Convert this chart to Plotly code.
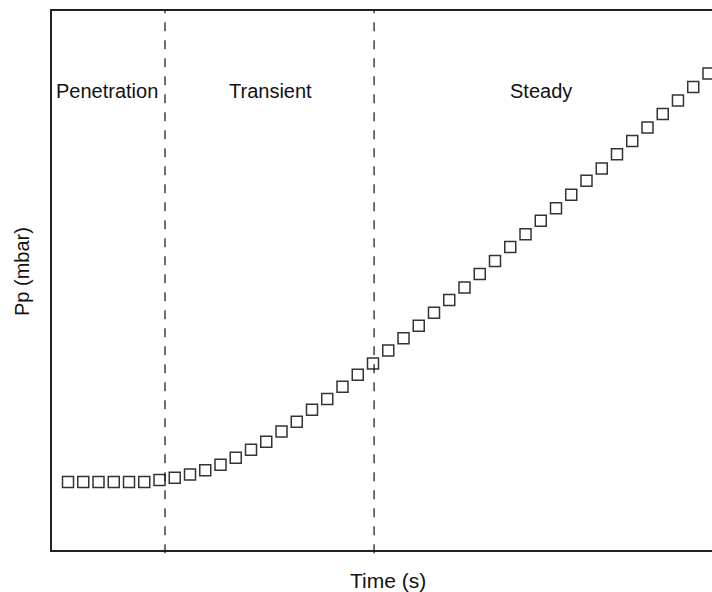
import plotly.graph_objects as go

# Sample index (time steps) and permeate pressure readings (arbitrary units)
time_idx = list(range(43))
pp_values = [12.6, 12.6, 12.6, 12.6, 12.6, 12.6, 13.0, 13.4, 14.0, 14.8,
             15.8, 17.1, 18.6, 20.1, 22.0, 23.8, 26.0, 28.0, 30.3, 32.5,
             34.6, 37.0, 39.3, 41.6, 44.0, 46.4, 48.7, 51.2, 53.6, 56.2,
             58.6, 61.1, 63.4, 65.9, 68.5, 70.8, 73.4, 75.9, 78.4, 80.9,
             83.4, 85.9, 88.4]

# Region boundaries (in time index units) and labels
boundaries = [6.36, 20.07]
region_labels = ["Penetration", "Transient", "Steady"]
region_label_x = [2.56, 13.3, 31.0]
label_y = 85.1

x_range = [-1.05, 42.23]
y_range = [0, 100]

fig = go.Figure()
fig.add_trace(go.Scatter(
    x=time_idx, y=pp_values, mode="markers",
    marker=dict(symbol="square-open", size=11, color="#333333",
                line=dict(width=1.5, color="#333333")),
    cliponaxis=False, showlegend=False, hoverinfo="skip"))

for b in boundaries:
    fig.add_shape(type="line", xref="x", yref="paper", x0=b, x1=b, y0=-0.006, y1=1,
                  line=dict(color="#111111", width=1.2, dash="dash"))

for lab, lx in zip(region_labels, region_label_x):
    fig.add_annotation(x=lx, y=label_y, xref="x", yref="y", text=lab,
                       showarrow=False, font=dict(size=20, color="#111111"),
                       xanchor="center", yanchor="middle")

# axis titles
fig.add_annotation(x=(388 - 52) / 660, y=-30 / 539, xref="paper", yref="paper",
                   text="Time (s)", showarrow=False,
                   font=dict(size=21, color="#111111"),
                   xanchor="center", yanchor="middle")
fig.add_annotation(x=-30 / 660, y=(550 - 272) / 539, xref="paper", yref="paper",
                   text="Pp (mbar)", textangle=-90, showarrow=False,
                   font=dict(size=20, color="#111111"),
                   xanchor="center", yanchor="middle")

fig.update_xaxes(range=x_range, showticklabels=False, ticks="", showgrid=False,
                 zeroline=False, showline=True, linecolor="#222222", linewidth=2,
                 mirror=True)
fig.update_yaxes(range=y_range, showticklabels=False, ticks="", showgrid=False,
                 zeroline=False, showline=True, linecolor="#222222", linewidth=2,
                 mirror=False)

fig.update_layout(width=712, height=592,
                  margin=dict(l=52, r=0, t=11, b=42),
                  paper_bgcolor="white", plot_bgcolor="white",
                  font=dict(family="Liberation Sans, Arial, sans-serif"))

fig.write_html("out.html")
